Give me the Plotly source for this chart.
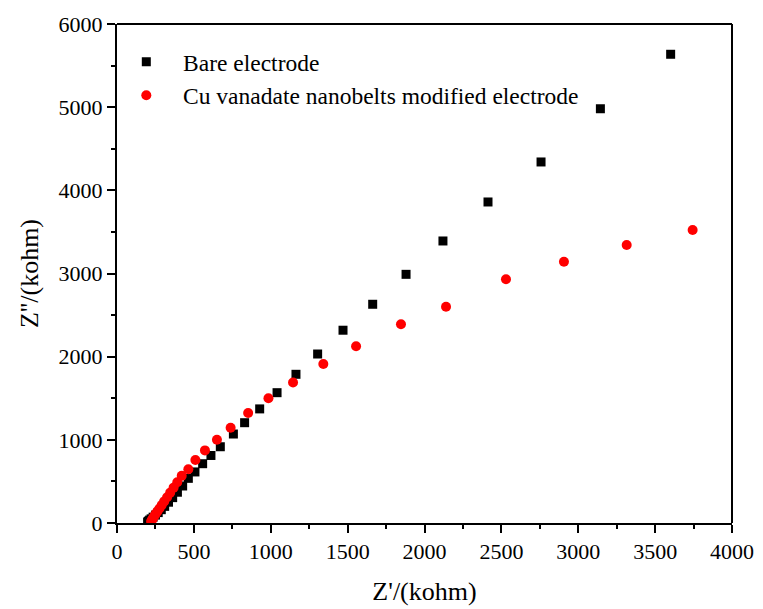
import plotly.graph_objects as go

# Bare electrode (Z', Z'') in kohm
bare_x = [199, 205, 212, 222, 235, 250, 268, 288, 310, 335, 362, 393, 427, 464, 507, 557, 611, 672,
          757, 830, 928, 1041, 1164, 1305, 1470, 1663, 1880, 2120, 2413, 2758, 3144, 3601]
bare_y = [12, 22, 35, 50, 70, 95, 125, 160, 200, 250, 305, 370, 445, 537, 614, 713, 812, 917,
          1070, 1206, 1372, 1567, 1788, 2032, 2318, 2630, 2990, 3391, 3860, 4341, 4981, 5636]

# Cu vanadate nanobelts modified electrode
cu_x = [222, 226, 230, 236, 243, 252, 263, 276, 291, 307, 326, 346, 368, 392, 421, 464, 510, 572,
        650, 739, 853, 985, 1145, 1342, 1555, 1847, 2140, 2530, 2907, 3315, 3744]
cu_y = [18, 30, 45, 63, 85, 110, 140, 175, 215, 260, 310, 365, 425, 490, 567, 647, 757, 873,
        1000, 1146, 1322, 1499, 1690, 1912, 2125, 2389, 2601, 2930, 3142, 3343, 3523]

FONT = "Liberation Serif, Times New Roman, serif"
PAD = "\u00a0\u00a0"

fig = go.Figure()
fig.add_trace(go.Scatter(x=bare_x, y=bare_y, mode="markers", name=PAD + "Bare electrode",
                         marker=dict(symbol="square", size=9, color="black")))
fig.add_trace(go.Scatter(x=cu_x, y=cu_y, mode="markers",
                         name=PAD + "Cu vanadate nanobelts modified electrode",
                         marker=dict(symbol="circle", size=10, color="#ff0000")))

axis_common = dict(showgrid=False, zeroline=False, showline=True, linecolor="black", linewidth=2,
                   ticks="outside", ticklen=8, tickwidth=2, tickcolor="black", automargin=False,
                   tickfont=dict(family=FONT, size=22, color="black"), mirror=False)

fig.update_xaxes(range=[0, 4000], dtick=500, tick0=0,
                 minor=dict(dtick=250, ticks="outside", ticklen=4, tickwidth=2, tickcolor="black"),
                 title=dict(text="Z'/(kohm)", font=dict(family=FONT, size=26, color="black"), standoff=18),
                 **axis_common)
fig.update_yaxes(range=[0, 6000], dtick=1000, tick0=0,
                 minor=dict(dtick=500, ticks="outside", ticklen=4, tickwidth=2, tickcolor="black"),
                 title=dict(text="Z''/(kohm)", font=dict(family=FONT, size=26, color="black"), standoff=12),
                 **axis_common)

# top and right frame lines
fig.add_shape(type="line", xref="paper", yref="paper", x0=0, x1=1, y0=1, y1=1,
              line=dict(color="black", width=2))
fig.add_shape(type="line", xref="paper", yref="paper", x0=1, x1=1, y0=0, y1=1,
              line=dict(color="black", width=2))

fig.update_layout(
    width=763, height=609,
    margin=dict(l=117, r=31, t=24, b=86),
    plot_bgcolor="white", paper_bgcolor="white",
    font=dict(family=FONT, size=22, color="black"),
    legend=dict(x=0.007, y=0.968, xanchor="left", yanchor="top", bgcolor="rgba(0,0,0,0)",
                font=dict(family=FONT, size=23.5, color="black"), tracegroupgap=0, itemwidth=40),
    showlegend=True,
)

fig.write_html("out.html")
